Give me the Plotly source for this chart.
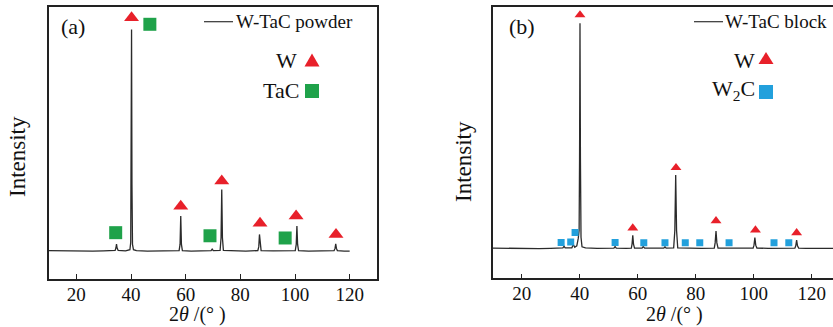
import plotly.graph_objects as go

# ---------------- data ----------------
# (a) W-TaC powder : XRD trace (2theta, relative intensity)
powder_x = [10, 14, 18, 22, 26, 30, 33, 34.2, 34.5, 34.7, 34.9, 35.3, 38, 39.6, 39.9, 40.05, 40.2, 40.35, 40.55, 40.9, 42, 46, 50, 54,
            57.6, 57.95, 58.2, 58.45, 58.8, 62, 66, 69.3, 69.7, 70.1, 72.6, 72.95, 73.2, 73.45, 73.8, 78, 82, 86.4, 86.75,
            87.0, 87.25, 87.6, 92, 96, 100.1, 100.45, 100.7, 100.95, 101.3, 105, 110, 114.3, 114.65, 114.9, 115.15, 115.5, 118, 120]
powder_y = [0.2, 0.1, 0.0, 0.1, 0.0, 0.1, 0.1, 0.3, 1.5, 3.2, 1.5, 0.3, 0.1, 0.6, 4.0, 30.0, 100.0, 30.0, 3.0, 0.6, 0.2, 0.0, 0.0, 0.1,
            0.2, 3.0, 15.8, 3.0, 0.2, 0.0, 0.1, 0.2, 0.9, 0.2, 0.3, 6.0, 27.8, 6.0, 0.3, 0.0, 0.0, 0.2, 2.0,
            7.5, 2.0, 0.2, 0.1, 0.0, 0.2, 3.0, 11.3, 3.0, 0.2, 0.0, 0.0, 0.2, 1.2, 3.2, 1.2, 0.2, 0.0, 0.0]
w_a_x = [40.2, 58.2, 73.2, 87.2, 100.4, 115.0]
w_a_y = [105.2, 20.2, 31.6, 12.5, 15.8, 7.5]
tac_a_x = [46.9, 34.4, 68.9, 96.4]
tac_a_y = [102.3, 8.3, 6.9, 5.9]

# (b) W-TaC block
block_x = [10, 14, 18, 22, 26, 30, 33, 34.2, 34.6, 35.0, 37.3, 37.8, 38.3, 39.0, 39.5, 39.8, 39.95, 40.1, 40.25, 40.45, 40.8, 42,
           46, 50, 51.8, 52.2, 52.6, 56, 57.8, 58.05, 58.3, 58.55, 58.9, 61.5, 61.9, 62.4, 66, 69.0, 69.4, 69.8, 72.4, 72.8,
           73.1, 73.4, 73.8, 78, 82, 86.4, 86.7, 87.0, 87.3, 87.7, 92, 96, 99.8, 100.1, 100.4, 100.7, 101.1, 105, 110, 114.2,
           114.5, 114.8, 115.1, 115.5, 118, 122, 126, 130]
block_y = [0.2, 0.1, 0.3, 0.1, 0.0, 0.1, 0.2, 0.3, 1.0, 0.3, 0.3, 1.8, 0.6, 1.2, 4.5, 8.0, 40.0, 100.0, 40.0, 5.0, 0.8, 0.3,
           0.1, 0.1, 0.2, 0.9, 0.2, 0.1, 0.2, 2.0, 5.9, 2.0, 0.2, 0.2, 0.9, 0.2, 0.1, 0.2, 0.8, 0.2, 0.3, 8.0,
           32.6, 8.0, 0.3, 0.1, 0.1, 0.2, 2.5, 7.8, 2.5, 0.2, 0.1, 0.0, 0.2, 1.5, 4.9, 1.5, 0.2, 0.1, 0.0, 0.2,
           1.2, 3.7, 1.2, 0.2, 0.1, 0.1, 0.0, 0.1]
w_b_x = [40.1, 58.3, 73.2, 87.0, 100.6, 114.8]
w_b_y = [103.7, 9.1, 35.9, 12.3, 8.2, 7.0]
w2c_b_x = [33.6, 36.9, 38.4, 52.2, 62.1, 69.4, 76.4, 81.4, 91.5, 107.0, 112.1]
w2c_b_y = [2.7, 2.9, 7.1, 2.7, 2.6, 2.6, 2.6, 2.6, 2.6, 2.6, 2.6]

x_ticks = [20, 40, 60, 80, 100, 120]

# ---------------- style ----------------
W_, H_ = 833, 327
SERIF = "Liberation Serif, Times New Roman, DejaVu Serif, serif"
RED, GREEN, BLUE = "#e8202a", "#1fa24a", "#22a0dc"
LINE = "#2b2b2b"

fig = go.Figure()
fig.add_trace(go.Scatter(x=powder_x, y=powder_y, mode="lines", line=dict(color=LINE, width=1.3),
                         xaxis="x", yaxis="y", showlegend=False))
fig.add_trace(go.Scatter(x=w_a_x, y=w_a_y, mode="markers", xaxis="x", yaxis="y", showlegend=False,
                         marker=dict(symbol="triangle-up", size=13, color=RED, line=dict(width=0))))
fig.add_trace(go.Scatter(x=tac_a_x, y=tac_a_y, mode="markers", xaxis="x", yaxis="y", showlegend=False,
                         marker=dict(symbol="square", size=13, color=GREEN, line=dict(width=0))))
fig.add_trace(go.Scatter(x=block_x, y=block_y, mode="lines", line=dict(color=LINE, width=1.3),
                         xaxis="x2", yaxis="y2", showlegend=False))
fig.add_trace(go.Scatter(x=w_b_x, y=w_b_y, mode="markers", xaxis="x2", yaxis="y2", showlegend=False,
                         marker=dict(symbol="triangle-up", size=9.5, color=RED, line=dict(width=0))))
fig.add_trace(go.Scatter(x=w2c_b_x, y=w2c_b_y, mode="markers", xaxis="x2", yaxis="y2", showlegend=False,
                         marker=dict(symbol="square", size=7, color=BLUE, line=dict(width=0))))

def px(x):
    return x / W_

def py(y):
    return 1 - y / H_

axis_common = dict(showgrid=False, zeroline=False, showline=True, linecolor="#222", linewidth=1.5,
                   ticks="inside", ticklen=5, tickwidth=1.2, tickcolor="#222", ticklabelstandoff=-3,
                   tickfont=dict(family=SERIF, size=19, color="#111"))

fig.update_layout(
    width=W_, height=H_, margin=dict(l=0, r=0, t=0, b=0),
    paper_bgcolor="white", plot_bgcolor="white",
    font=dict(family=SERIF, size=19, color="#111"),
    xaxis=dict(domain=[px(49), px(377)], range=[10, 130], tickvals=x_ticks, mirror=True, anchor="y", **axis_common),
    yaxis=dict(domain=[py(279), py(7)], range=[-12.6, 110.1], showgrid=False, zeroline=False, showline=True,
               linecolor="#222", linewidth=1.5, mirror=True, showticklabels=False, ticks="", anchor="x"),
    xaxis2=dict(domain=[px(492.7), 1.0], range=[10, 127.34], tickvals=x_ticks, mirror=True, anchor="y2", **axis_common),
    yaxis2=dict(domain=[py(278.3), py(7)], range=[-13.2, 107.2], showgrid=False, zeroline=False, showline=True,
                linecolor="#222", linewidth=1.5, mirror=False, showticklabels=False, ticks="", anchor="x2"),
)

ann = []
def text(x, y, s, size, xanchor="left", yanchor="middle", angle=0):
    ann.append(dict(x=px(x), y=py(y), xref="paper", yref="paper", text=s, showarrow=False,
                    xanchor=xanchor, yanchor=yanchor, textangle=angle,
                    font=dict(family=SERIF, size=size, color="#111")))

# panel (a)
text(59, 26, "(a)", 22)
text(234, 21.5, "W-TaC powder", 19)
text(299, 60, "W", 22, xanchor="right")
text(301, 90, "TaC", 22, xanchor="right")
text(197.5, 314.5, "2<i>θ</i> /(° )", 20, xanchor="center")
text(18, 157, "Intensity", 23, xanchor="center", angle=-90)
# panel (b)
text(507, 26, "(b)", 22)
text(723, 21.5, "W-TaC block", 19)
text(757, 60, "W", 22, xanchor="right")
text(757, 90, "W<sub>2</sub>C", 22, xanchor="right")
text(674.5, 314.5, "2<i>θ</i> /(° )", 20, xanchor="center")
text(463, 162, "Intensity", 23, xanchor="center", angle=-90)
fig.update_layout(annotations=ann)

shapes = [
    dict(type="line", xref="paper", yref="paper", x0=px(204), x1=px(233), y0=py(21.7), y1=py(21.7),
         line=dict(color="#333", width=1.2)),
    dict(type="line", xref="paper", yref="paper", x0=px(694), x1=px(723), y0=py(21.7), y1=py(21.7),
         line=dict(color="#333", width=1.2)),
]
def tri(cx, cy, w, h, color):
    shapes.append(dict(type="path", xref="paper", yref="paper", xsizemode="pixel", ysizemode="pixel",
                       xanchor=px(cx), yanchor=py(cy),
                       path=f"M {-w/2} {-h/2} L {w/2} {-h/2} L 0 {h/2} Z",
                       fillcolor=color, line=dict(width=0)))
def sq(cx, cy, s, color):
    shapes.append(dict(type="rect", xref="paper", yref="paper", xsizemode="pixel", ysizemode="pixel",
                       xanchor=px(cx), yanchor=py(cy), x0=-s/2, x1=s/2, y0=-s/2, y1=s/2,
                       fillcolor=color, line=dict(width=0)))
tri(312, 60, 15, 13, RED)
sq(312, 91, 14, GREEN)
tri(766, 58, 15, 12, RED)
sq(766, 92, 14, BLUE)
fig.update_layout(shapes=shapes)

fig.write_html("out.html")
